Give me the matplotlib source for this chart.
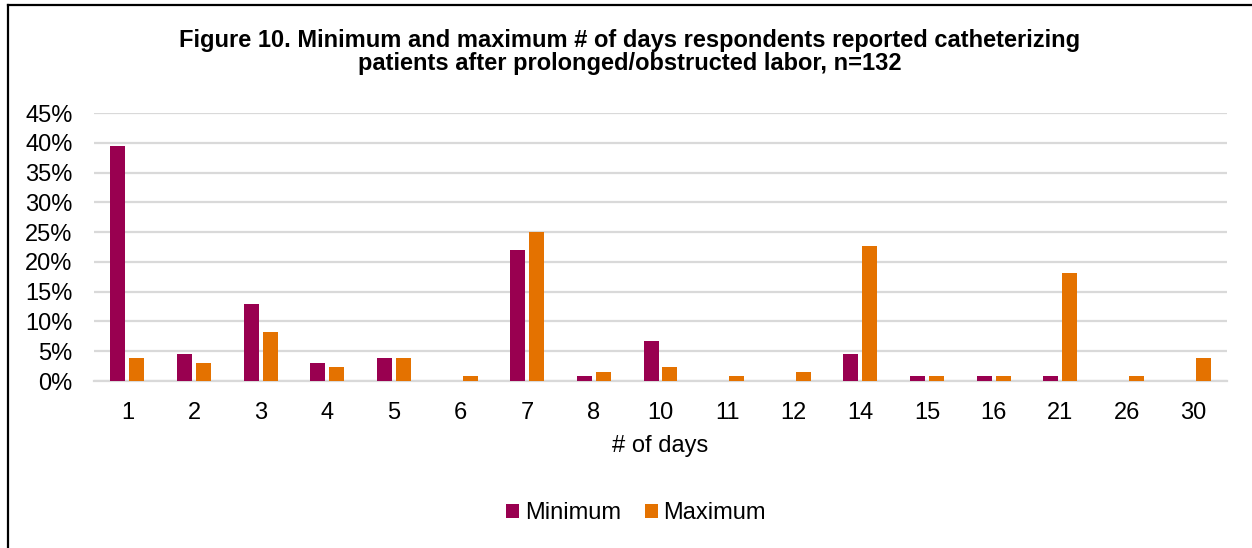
import matplotlib
matplotlib.use("Agg")
import matplotlib.pyplot as plt
import numpy as np
from matplotlib.lines import Line2D
from matplotlib.patches import Patch
from matplotlib.ticker import FuncFormatter, MultipleLocator

plt.rcParams['font.family'] = ['Liberation Sans', 'DejaVu Sans']

days = ["1", "2", "3", "4", "5", "6", "7", "8", "10", "11", "12", "14", "15", "16", "21", "26", "30"]
minimum = [39.4, 4.5, 12.9, 3.0, 3.8, 0.0, 22.0, 0.8, 6.8, 0.0, 0.0, 4.5, 0.8, 0.8, 0.8, 0.0, 0.0]
maximum = [3.8, 3.0, 8.3, 2.3, 3.8, 0.8, 25.0, 1.5, 2.3, 0.8, 1.5, 22.7, 0.8, 0.8, 18.2, 0.8, 3.8]

MIN_COLOR = "#990050"
MAX_COLOR = "#E47200"
GRID_COLOR = "#D9D9D9"

W, H = 1252, 548
fig = plt.figure(figsize=(W / 100, H / 100), dpi=100)

ax_left, ax_right = 94 / W, 1227 / W
ax = fig.add_axes([ax_left, 1 - 381 / H, ax_right - ax_left, (381 - 113) / H])

x = np.arange(len(days))
bw = 0.225
off = 0.142
ax.bar(x - off, minimum, width=bw, color=MIN_COLOR, zorder=3)
ax.bar(x + off, maximum, width=bw, color=MAX_COLOR, zorder=3)

ax.set_xlim(-0.5, len(days) - 0.5)
ax.set_ylim(0, 45)
ax.yaxis.set_major_locator(MultipleLocator(5))
ax.yaxis.set_major_formatter(FuncFormatter(lambda v, p: f"{v:.0f}%"))
ax.grid(axis="y", color=GRID_COLOR, linewidth=1.6, zorder=0)
ax.set_axisbelow(True)
for s in ["top", "right", "left"]:
    ax.spines[s].set_visible(False)
ax.spines["bottom"].set_color(GRID_COLOR)
ax.spines["bottom"].set_linewidth(1.6)

ax.set_xticks(x)
ax.set_xticklabels(days)
ax.tick_params(axis="both", length=0, labelsize=17, colors="#000000")
ax.tick_params(axis="y", pad=15.5)
ax.tick_params(axis="x", pad=15)

fig.text((ax_left + ax_right) / 2, 1 - 446 / H, "# of days", ha="center", va="center", fontsize=17)

fig.text(0.503, 1 - 52 / H,
         "Figure 10. Minimum and maximum # of days respondents reported catheterizing\n"
         "patients after prolonged/obstructed labor, n=132",
         ha="center", va="center", fontsize=17, fontweight="bold",
         linespacing=1.05)

handles = [Patch(facecolor=MIN_COLOR, label="Minimum"),
           Patch(facecolor=MAX_COLOR, label="Maximum")]
fig.legend(handles=handles, loc="center", bbox_to_anchor=(0.508, 1 - 513 / H),
           ncol=2, frameon=False, fontsize=17, handlelength=0.55, handleheight=0.55,
           handletextpad=0.25, columnspacing=1.0)

fig.add_artist(Line2D([8 / W, 8 / W], [0, 1 - 5 / H], color="black", linewidth=1.6,
                      transform=fig.transFigure))
fig.add_artist(Line2D([8 / W, 1], [1 - 5 / H, 1 - 5 / H], color="black", linewidth=1.6,
                      transform=fig.transFigure))

fig.savefig("out.png", dpi=100, facecolor="white")
